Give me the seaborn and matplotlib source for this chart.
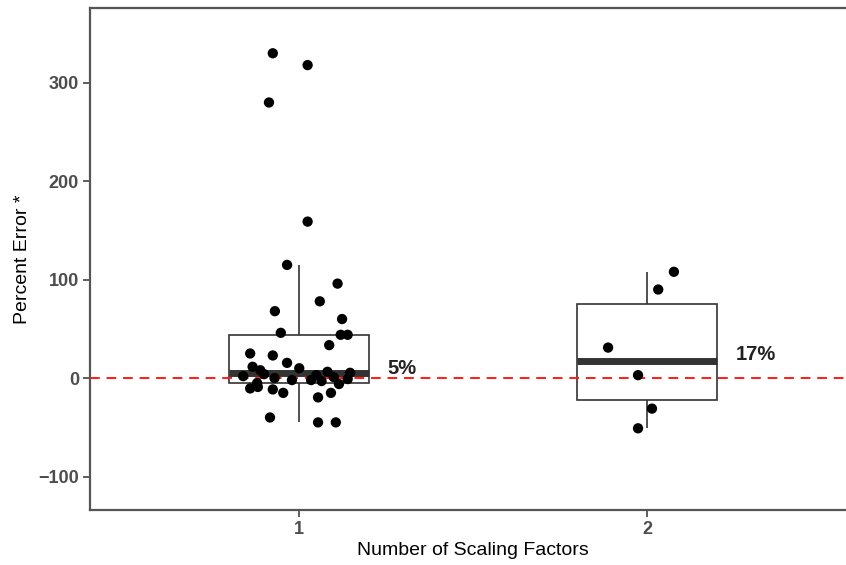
import seaborn as sns
import matplotlib.pyplot as plt
import pandas as pd
import numpy as np

# Percent error per study, grouped by number of scaling factors
err_one = [330, 318, 280, 159, 115, 96, 78, 68, 60, 46, 44, 44, 33.5, 25, 23,
           15.5, 11.5, 8, 10, 6.4, 5.4,
           4, 3, 2, 1, 0, -1, -2, -2, -3, -5, -6,
           -10.5, -9, -11.5, -15, -15, -19.6, -40, -45, -45]
jit_one = [-0.075, 0.025, -0.086, 0.025, -0.034, 0.111, 0.060, -0.069, 0.124, -0.052, 0.120, 0.140, 0.087, -0.140, -0.075,
           -0.034, -0.133, -0.111, 0.001, 0.082, 0.147,
           -0.10, 0.05, -0.16, 0.10, -0.07, 0.14, 0.035, -0.02, 0.065, -0.12, 0.115,
           -0.140, -0.118, -0.075, -0.045, 0.092, 0.055, -0.083, 0.055, 0.106]
err_two = [31, 3, -31, -51, 90, 108]
jit_two = [-0.112, -0.026, 0.014, -0.026, 0.032, 0.077]

median_labels = ["5%", "17%"]
label_y = [10, 24]

df = pd.DataFrame({
    "factors": [1] * len(err_one) + [2] * len(err_two),
    "err": err_one + err_two,
    "jitter": jit_one + jit_two,
})
df["xpos"] = df["factors"] + df["jitter"]

sns.set_style("white")
plt.rcParams["font.family"] = ["Liberation Sans", "DejaVu Sans"]

fig = plt.figure(figsize=(8.46, 5.65), dpi=100)
ax = fig.add_axes([90 / 846, 55 / 565, 766 / 846, 502 / 565])

sns.boxplot(data=df, x="factors", y="err", native_scale=True, width=0.4,
            whis=1.5, showfliers=False, color="white", linecolor="#333333",
            linewidth=1.2, showcaps=False,
            medianprops=dict(linewidth=5, color="#333333", solid_capstyle="butt"),
            ax=ax, zorder=2)

ax.axhline(0, color="#ff1a1a", linestyle=(0, (5, 3.5)), linewidth=1.4, zorder=3)

sns.scatterplot(data=df, x="xpos", y="err", color="black", s=55,
                edgecolor="none", ax=ax, zorder=4)

for i, (lab, yy) in enumerate(zip(median_labels, label_y)):
    ax.text(i + 1.255, yy, lab, fontsize=14.5, fontweight="bold", color="#222222",
            ha="left", va="center")

ax.set_xlim(0.4, 2.6)
ax.set_ylim(-134, 376)
ax.set_xticks([1, 2])
ax.set_xticklabels(["1", "2"])
ax.set_yticks([-100, 0, 100, 200, 300])
ax.set_yticklabels(["\u2212100", "0", "100", "200", "300"])
ax.tick_params(axis="both", length=5, width=1.1, color="#333333", labelsize=13,
               labelcolor="#4d4d4d", pad=3, bottom=True, left=True)
for t in ax.get_xticklabels() + ax.get_yticklabels():
    t.set_fontweight("bold")

ax.set_xlabel("Number of Scaling Factors", fontsize=14, color="black", labelpad=3)
ax.set_ylabel("Percent Error *", fontsize=14, color="black", labelpad=5)

for sp in ax.spines.values():
    sp.set_color("#555555")
    sp.set_linewidth(1.6)

fig.savefig("out.png", dpi=100)
plt.close()
